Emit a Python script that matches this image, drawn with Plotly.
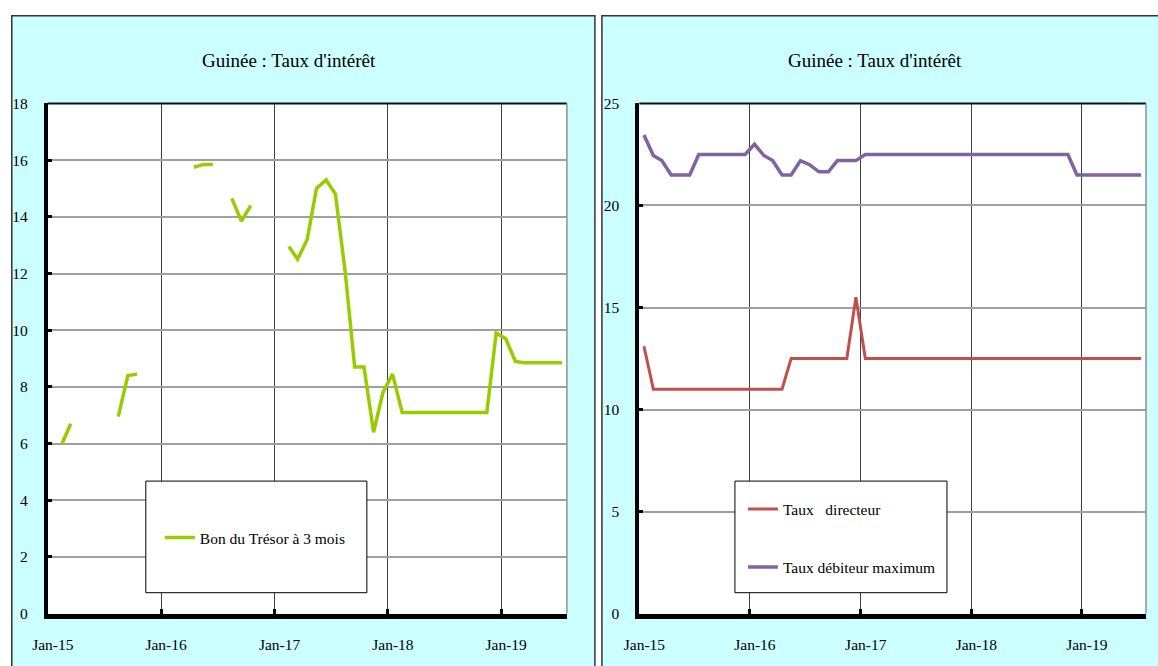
import plotly.graph_objects as go
import pandas as pd

# ---------------- data ----------------
months = pd.date_range("2015-01-01", periods=55, freq="MS")  # Jan-15 .. Jul-19
dates = [d + pd.Timedelta(days=15) for d in months]

bon_tresor = [None, 6.0, 6.7, None, None, None, None, 6.95, 8.4, 8.45,
              None, None, None, None, None, 15.75, 15.85, 15.85, None, 14.65,
              13.85, 14.4, None, None, None, 12.95, 12.5, 13.2, 15.0, 15.3,
              14.8, 12.1, 8.7, 8.7, 6.4, 7.8, 8.45, 7.1, 7.1, 7.1,
              7.1, 7.1, 7.1, 7.1, 7.1, 7.1, 7.1, 9.9, 9.7, 8.9,
              8.85, 8.85, 8.85, 8.85, 8.85]

taux_directeur = [13.1] + [11.0] * 15 + [12.5] * 7 + [15.5] + [12.5] * 31

taux_debiteur = [23.45, 22.45, 22.2, 21.5, 21.5, 21.5, 22.5, 22.5, 22.5, 22.5,
                 22.5, 22.5, 23.0, 22.45, 22.2, 21.5, 21.5, 22.2, 22.0, 21.65,
                 21.65, 22.2, 22.2, 22.2] + [22.5] * 23 + [21.5] * 8

tick_vals = ["2015-01-01", "2016-01-01", "2017-01-01", "2018-01-01", "2019-01-01"]
tick_text = ["Jan-15", "Jan-16", "Jan-17", "Jan-18", "Jan-19"]
title_text = "Guinée : Taux d'intérêt"
x_range = ["2015-01-01", "2019-08-01"]

# ---------------- layout helpers ----------------
W, H = 1158, 666
FONT = "Liberation Serif, Times New Roman, serif"
# calibration of the rendered picture against target pixel positions
SX, OX = 0.986, 14.2
SY, OY = 0.978, 7.2


def px(x):
    return ((x - OX) / SX) / W


def py(y):
    return 1 - ((y - OY) / SY) / H


fig = go.Figure()

fig.add_trace(go.Scatter(x=dates, y=bon_tresor, mode="lines", name="Bon du Trésor à 3 mois",
                         line=dict(color="#99CC00", width=3.5), xaxis="x", yaxis="y",
                         legend="legend"))
fig.add_trace(go.Scatter(x=dates, y=taux_directeur, mode="lines", name="Taux\u00a0\u00a0\u00a0directeur",
                         line=dict(color="#C0504D", width=3), xaxis="x2", yaxis="y2",
                         legend="legend2", legendgroup="a"))
fig.add_trace(go.Scatter(x=dates, y=taux_debiteur, mode="lines", name="Taux débiteur maximum",
                         line=dict(color="#8064A2", width=3.5), xaxis="x2", yaxis="y2",
                         legend="legend2", legendgroup="b"))

xcommon = dict(type="date", range=x_range, tickvals=tick_vals, ticktext=tick_text,
               showgrid=True, gridcolor="#404040", gridwidth=1, showline=True,
               linecolor="black", linewidth=5, ticks="inside", ticklen=5, tickwidth=3,
               tickcolor="black", ticklabelshift=5, ticklabelstandoff=13,
               tickfont=dict(size=15.5, color="black", family=FONT), zeroline=False)
ycommon = dict(showgrid=True, gridcolor="#A0A0A0", gridwidth=1.5, showline=True,
               linecolor="black", linewidth=4, ticks="inside", ticklen=4, tickwidth=3,
               tickcolor="black", ticklabelstandoff=13,
               tickfont=dict(size=15.5, color="black", family=FONT), zeroline=False,
               domain=[py(614), py(102)])

fig.update_layout(
    width=W, height=H, margin=dict(l=0, r=0, t=0, b=0),
    paper_bgcolor="white", plot_bgcolor="white",
    font=dict(family=FONT, color="black", size=15),
    showlegend=True,
    xaxis=dict(domain=[px(46), px(565)], anchor="y", **xcommon),
    yaxis=dict(range=[0, 18], dtick=2, tick0=0, anchor="x", **ycommon),
    xaxis2=dict(domain=[px(637.5), px(1144)], anchor="y2", **xcommon),
    yaxis2=dict(range=[0, 25], dtick=5, tick0=0, anchor="x2", **ycommon),
    legend=dict(x=px(158), y=py(538), xanchor="left", yanchor="middle",
                bgcolor="rgba(0,0,0,0)", borderwidth=0, itemwidth=30,
                font=dict(size=15.5, family=FONT, color="black")),
    legend2=dict(x=px(741), y=py(538.5), xanchor="left", yanchor="middle",
                 bgcolor="rgba(0,0,0,0)", borderwidth=0, itemwidth=30,
                 traceorder="grouped", tracegroupgap=35,
                 font=dict(size=15.5, family=FONT, color="black")),
)

shapes = []
# panels
for x0, x1 in [(10, 593), (600, 1175)]:
    shapes.append(dict(type="rect", xref="paper", yref="paper", x0=px(x0), x1=px(x1),
                       y0=py(14), y1=py(690), fillcolor="#CCFFFF",
                       line=dict(color="#333333", width=1.5), layer="below"))
# plot areas
for x0, x1 in [(46, 565), (637.5, 1144)]:
    shapes.append(dict(type="rect", xref="paper", yref="paper", x0=px(x0), x1=px(x1),
                       y0=py(614), y1=py(102), fillcolor="white",
                       line=dict(width=0), layer="below"))
    shapes.append(dict(type="line", xref="paper", yref="paper", x0=px(x0), x1=px(x1),
                       y0=py(102), y1=py(102), line=dict(color="#111111", width=2),
                       layer="above"))
    shapes.append(dict(type="line", xref="paper", yref="paper", x0=px(x1), x1=px(x1),
                       y0=py(102), y1=py(614), line=dict(color="#909090", width=1.5),
                       layer="above"))
# legend boxes
for x0, x1 in [(144, 365), (733, 945)]:
    shapes.append(dict(type="rect", xref="paper", yref="paper", x0=px(x0), x1=px(x1),
                       y0=py(593), y1=py(481), fillcolor="white",
                       line=dict(color="black", width=1), layer="above"))
fig.update_layout(shapes=shapes)

for cx in (287, 873):
    fig.add_annotation(x=px(cx), y=py(59), xref="paper", yref="paper", text=title_text,
                       showarrow=False, font=dict(size=19, family=FONT, color="black"),
                       xanchor="center", yanchor="middle")

fig.write_html("out.html", config={"displayModeBar": False},
               post_script="document.body.style.margin='0';")
